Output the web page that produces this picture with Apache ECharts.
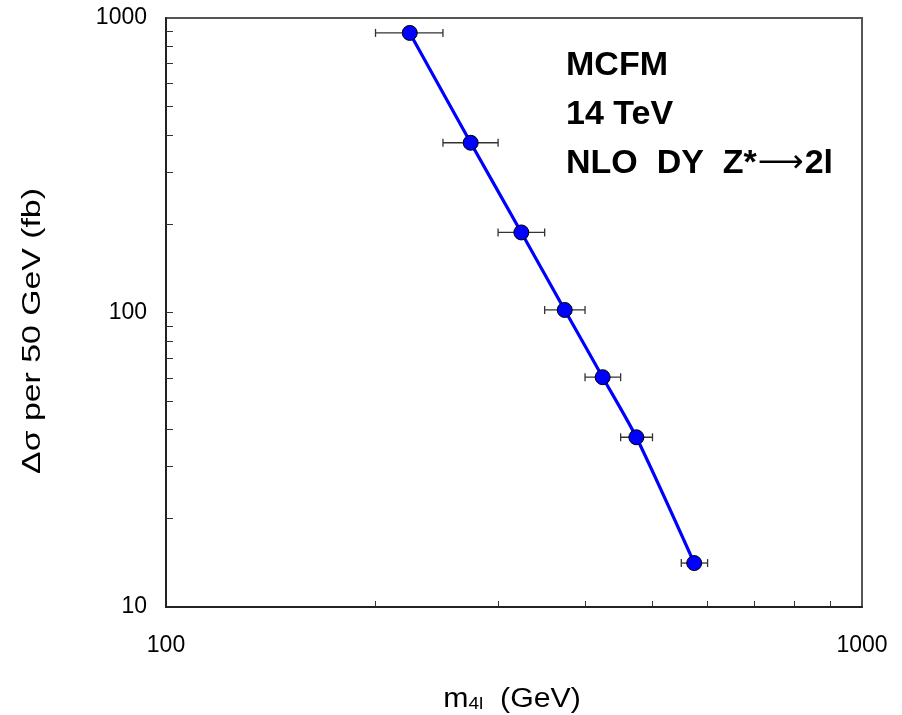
<!DOCTYPE html>
<html>
<head>
<meta charset="utf-8">
<script src="https://cdn.jsdelivr.net/npm/echarts@6/dist/echarts.min.js"></script>
<style>
  html, body { margin: 0; padding: 0; background: #fff; }
  #chart { width: 902px; height: 715px; }
</style>
</head>
<body>
<div id="chart"></div>
<script>
// Bin centres of the four-lepton mass (GeV) and cross section per bin (fb)
const massCentres = [224, 274, 324, 374, 424, 474, 574];
const sigmaPerBin = [890, 377, 187, 102, 60.3, 37.7, 14.1];
// Bin edges drawn as horizontal error bars
const binLow  = [200, 250, 300, 350, 400, 450, 550];
const binHigh = [250, 300, 350, 400, 450, 500, 600];
// Minor tick positions on the log axes
const xMinorTicks = [200, 300, 400, 500, 600, 700, 800, 900];
const yMinorTicks = [20, 30, 40, 50, 60, 70, 80, 90, 100, 200, 300, 400, 500, 600, 700, 800, 900];
// Annotation lines (rich-text markup for the arrow)
const infoLines = ['MCFM', '14 TeV', 'NLO  DY  Z*{a|\u27f6}2l'];

const FONT = '"Liberation Sans", Arial, Helvetica, sans-serif';

const chart = echarts.init(document.getElementById('chart'), null, { renderer: 'canvas' });

const points = massCentres.map((m, i) => [m, sigmaPerBin[i]]);
const errData = massCentres.map((m, i) => [m, sigmaPerBin[i], binLow[i], binHigh[i]]);

const intLabel = v => String(Math.round(v));

chart.setOption({
  animation: false,
  backgroundColor: '#ffffff',
  grid: {
    left: 166, top: 18, right: 40, bottom: 108,
    show: true, borderColor: '#555', borderWidth: 2, backgroundColor: 'transparent'
  },
  xAxis: {
    type: 'log', logBase: 10, min: 100, max: 1000,
    axisLine: { show: true, onZero: false, lineStyle: { color: '#222', width: 2 } },
    axisTick: { show: true, inside: true, length: 6, customValues: xMinorTicks,
                lineStyle: { color: '#333', width: 1 } },
    axisLabel: { fontFamily: FONT, fontSize: 23, color: '#000', margin: 27, formatter: intLabel },
    splitLine: { show: false }
  },
  yAxis: {
    type: 'log', logBase: 10, min: 10, max: 1000,
    axisLine: { show: true, onZero: false, lineStyle: { color: '#222', width: 2 } },
    axisTick: { show: true, inside: true, length: 7, customValues: yMinorTicks,
                lineStyle: { color: '#333', width: 1 } },
    axisLabel: { fontFamily: FONT, fontSize: 23, color: '#000', margin: 19, formatter: intLabel },
    splitLine: { show: false }
  },
  graphic: [
    {
      type: 'text',
      x: 566, y: 41,
      style: {
        text: infoLines.join('\n'),
        fontFamily: FONT, fontSize: 34, fontWeight: 'bold',
        fill: '#000', lineHeight: 49, align: 'left', verticalAlign: 'top',
        rich: {
          a: { fontFamily: '"DejaVu Sans", sans-serif', fontSize: 32, fontWeight: 'normal',
               lineHeight: 49, fill: '#000', padding: [0, 1, 0, 1] }
        }
      }
    },
    {
      type: 'text',
      x: 512, y: 713,
      scaleX: 1.12,
      style: {
        text: '{m|m}{s|4l}{m|  (GeV)}',
        fontFamily: FONT, fontSize: 27, fill: '#000',
        align: 'center', verticalAlign: 'bottom',
        rich: {
          m: { fontFamily: FONT, fontSize: 27, lineHeight: 30, verticalAlign: 'bottom', fill: '#000' },
          s: { fontFamily: FONT, fontSize: 17, lineHeight: 17, verticalAlign: 'bottom', fill: '#000' }
        }
      }
    },
    {
      type: 'text',
      x: 33, y: 331,
      rotation: Math.PI / 2,
      scaleX: 1.3,
      style: {
        text: '\u0394\u03c3 per 50 GeV (fb)',
        fontFamily: FONT, fontSize: 26, fill: '#000',
        align: 'center', verticalAlign: 'middle'
      }
    }
  ],
  series: [
    {
      type: 'custom',
      z: 1,
      data: errData,
      encode: { x: 0, y: 1 },
      renderItem: function (params, api) {
        const y = api.value(1);
        const lo = api.coord([api.value(2), y]);
        const hi = api.coord([api.value(3), y]);
        const cap = 4;
        const st = { stroke: '#333', lineWidth: 1.3 };
        return {
          type: 'group',
          children: [
            { type: 'line', shape: { x1: lo[0], y1: lo[1], x2: hi[0], y2: hi[1] }, style: st },
            { type: 'line', shape: { x1: lo[0], y1: lo[1] - cap, x2: lo[0], y2: lo[1] + cap }, style: st },
            { type: 'line', shape: { x1: hi[0], y1: hi[1] - cap, x2: hi[0], y2: hi[1] + cap }, style: st }
          ]
        };
      }
    },
    {
      type: 'line',
      z: 2,
      data: points,
      smooth: 0.25,
      symbol: 'circle',
      symbolSize: 15,
      lineStyle: { color: '#0000ff', width: 3.2 },
      itemStyle: { color: '#0000ff', borderColor: '#000', borderWidth: 1 }
    }
  ]
});
</script>
</body>
</html>
